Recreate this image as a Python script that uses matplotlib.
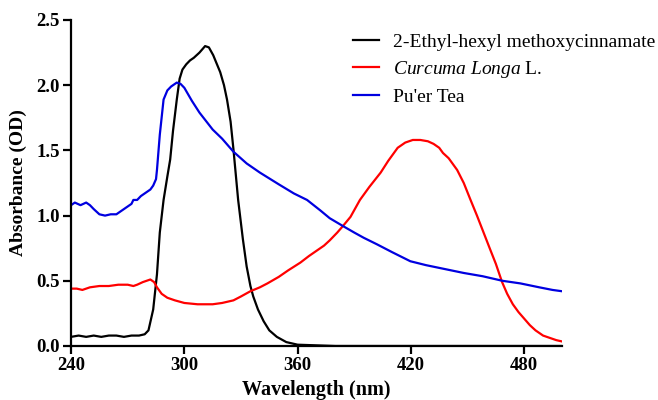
import matplotlib
matplotlib.use("Agg")
import matplotlib.pyplot as plt

plt.rcParams['font.family'] = ['Liberation Serif', 'DejaVu Serif']
plt.rcParams['mathtext.fontset'] = 'custom'
plt.rcParams['mathtext.rm'] = 'Liberation Serif'
plt.rcParams['mathtext.it'] = 'Liberation Serif:italic'

# 2-Ethyl-hexyl methoxycinnamate
ehmc_wl = [240, 244, 248, 252, 256, 260, 264, 268, 272, 276, 279, 281, 283.5, 285.5, 287, 289, 291,
           292.5, 294, 296, 297.5, 299, 301, 303, 305, 308, 311, 313, 315.3, 317, 319, 321, 322.6,
           324.5, 326, 328.5, 331, 333, 335, 336.5, 339, 342, 345, 349, 354, 360, 370, 380, 400,
           440, 480, 500]
ehmc_abs = [0.07, 0.08, 0.07, 0.08, 0.07, 0.08, 0.08, 0.07, 0.08, 0.08, 0.09, 0.12, 0.28, 0.55, 0.87,
            1.12, 1.30, 1.43, 1.65, 1.89, 2.05, 2.12, 2.16, 2.19, 2.21, 2.25, 2.30, 2.29, 2.23, 2.17,
            2.10, 2.00, 1.89, 1.72, 1.51, 1.12, 0.82, 0.61, 0.46, 0.38, 0.28, 0.19, 0.12, 0.07, 0.03,
            0.01, 0.005, 0.0, 0.0, 0.0, 0.0, 0.0]

# Curcuma Longa L.
curc_wl = [240, 243, 246, 250, 255, 260, 265, 270, 273, 275, 278, 282, 284, 285.5, 288, 291, 295,
           300, 307, 315, 320, 326, 330, 335, 340, 344, 350, 355, 361.5, 366, 370, 374, 377, 381, 384,
           388, 393, 398, 404, 408, 413, 417, 421, 425, 429, 432, 435, 437, 440, 444.5, 448, 451.6,
           455, 458.5, 462, 465, 468.3, 471, 474, 477, 480, 483, 486, 490, 494, 497, 500]
curc_abs = [0.44, 0.44, 0.43, 0.45, 0.46, 0.46, 0.47, 0.47, 0.46, 0.47, 0.49, 0.51, 0.49, 0.45, 0.40,
            0.37, 0.35, 0.33, 0.32, 0.32, 0.33, 0.35, 0.38, 0.42, 0.45, 0.48, 0.53, 0.58, 0.64, 0.69,
            0.73, 0.77, 0.81, 0.87, 0.92, 0.99, 1.12, 1.22, 1.33, 1.42, 1.52, 1.56, 1.58, 1.58, 1.57,
            1.55, 1.52, 1.48, 1.44, 1.35, 1.25, 1.12, 1.00, 0.87, 0.74, 0.63, 0.49, 0.40, 0.32, 0.26,
            0.21, 0.16, 0.12, 0.08, 0.06, 0.045, 0.035]

# Pu'er Tea
puer_wl = [240, 242, 245, 248, 250, 252, 255, 258, 261, 264, 266, 268, 270, 272, 273, 275, 277, 280,
           282, 283.5, 285, 285.5, 287, 289, 291, 293, 296, 298, 300, 304, 308, 315, 320, 326, 333,
           340, 350, 358, 365, 372, 377, 384, 390, 395, 402, 410, 419.7, 428, 438, 448, 458, 468.5,
           478, 488, 495, 500]
puer_abs = [1.08, 1.10, 1.08, 1.10, 1.08, 1.05, 1.01, 1.00, 1.01, 1.01, 1.03, 1.05, 1.07, 1.09, 1.12,
            1.12, 1.15, 1.18, 1.20, 1.23, 1.28, 1.35, 1.62, 1.89, 1.96, 1.99, 2.02, 2.01, 1.98, 1.88,
            1.79, 1.66, 1.59, 1.49, 1.40, 1.33, 1.24, 1.17, 1.12, 1.04, 0.98, 0.92, 0.87, 0.83, 0.78,
            0.72, 0.65, 0.62, 0.59, 0.56, 0.535, 0.50, 0.48, 0.45, 0.43, 0.42]

x_ticks = [240, 300, 360, 420, 480]
y_ticks = [0.0, 0.5, 1.0, 1.5, 2.0, 2.5]

fig = plt.figure(figsize=(6.58, 4.0), dpi=100)
ax = fig.add_axes([0.108, 0.135, 0.746, 0.815])

ax.plot(ehmc_wl, ehmc_abs, color='black', lw=1.6, label='2-Ethyl-hexyl methoxycinnamate')
ax.plot(curc_wl, curc_abs, color='#ff0000', lw=1.6, label=r'$\it{Curcuma\ Longa}$ L.')
ax.plot(puer_wl, puer_abs, color='#0000e0', lw=1.6, label="Pu'er Tea")

ax.set_xlim(240, 500)
ax.set_ylim(0, 2.5)
ax.set_xticks(x_ticks)
ax.set_yticks(y_ticks)
ax.set_yticklabels([f"{v:.1f}" for v in y_ticks])

for s in ['top', 'right']:
    ax.spines[s].set_visible(False)
for s in ['left', 'bottom']:
    ax.spines[s].set_linewidth(1.6)

ax.tick_params(axis='both', direction='out', length=6, width=1.6, labelsize=13.5, pad=2)
for lab in ax.get_xticklabels() + ax.get_yticklabels():
    lab.set_fontweight('bold')

ax.set_xlabel('Wavelength (nm)', fontsize=14.5, fontweight='bold', labelpad=4)
ax.set_ylabel('Absorbance (OD)', fontsize=14, fontweight='bold', labelpad=7)

ax.legend(loc='upper left', bbox_to_anchor=(0.525, 0.937), bbox_transform=fig.transFigure,
          frameon=False, fontsize=14, handlelength=1.3, handletextpad=0.75,
          labelspacing=0.42, borderaxespad=0)

fig.savefig('out.png', dpi=100, facecolor='white')
